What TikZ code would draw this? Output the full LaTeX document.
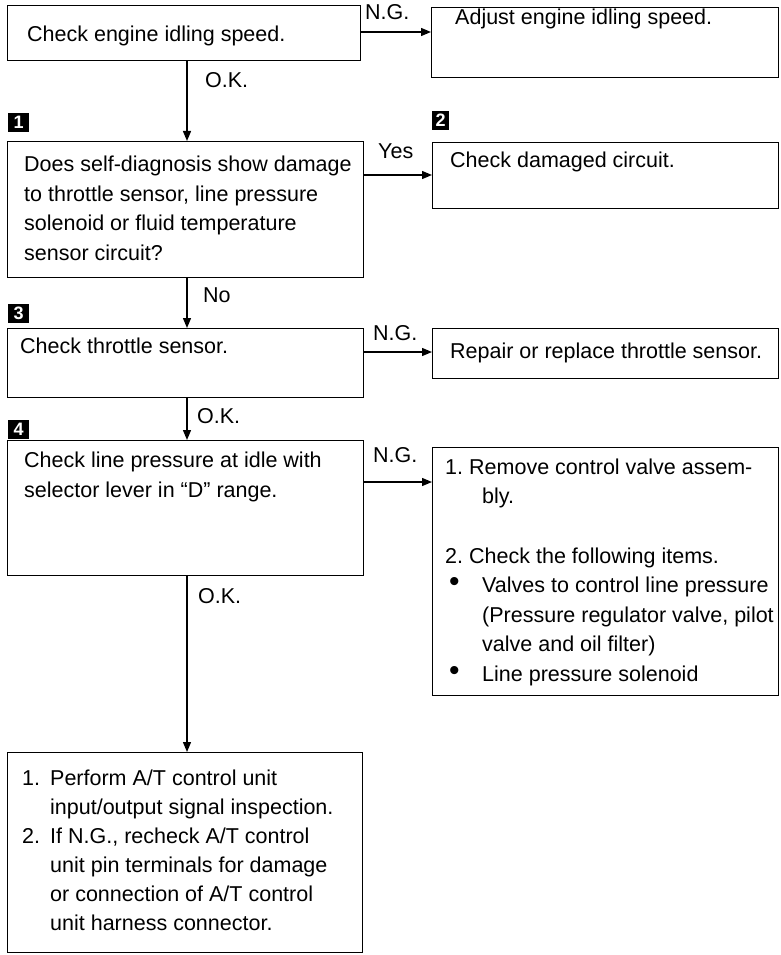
\documentclass[tikz,border=0pt]{standalone}
\usepackage{fontspec}
\setmainfont{Liberation Sans}
\usetikzlibrary{arrows.meta,calc}
\begin{document}
\begin{tikzpicture}[x=1pt,y=-1pt,
  box/.style={draw, line width=1.3pt, inner sep=0pt, anchor=north west},
  txt/.style={anchor=base west, inner sep=0pt, align=left, font=\fontsize{21.5}{29.5}\selectfont},
  lbl/.style={anchor=base west, inner sep=0pt, font=\fontsize{21.5}{25}\selectfont},
  arr/.style={line width=1.3pt, -{Triangle[length=10pt,width=8pt]}},
  numbox/.style={fill=black, text=white, font=\fontsize{18}{18}\selectfont\bfseries, minimum width=21pt, minimum height=19pt, inner sep=0pt, anchor=north west}
]
\useasboundingbox (0,0) rectangle (780,955);
% boxes
\node[box, minimum width=353pt, minimum height=55pt] (b1) at (7,5) {};
\node[box, minimum width=347pt, minimum height=70pt] (b2) at (431,7) {};
\node[box, minimum width=356pt, minimum height=136pt] (b3) at (7,141) {};
\node[box, minimum width=346pt, minimum height=66pt] (b4) at (432,142) {};
\node[box, minimum width=356pt, minimum height=69pt] (b5) at (7,328) {};
\node[box, minimum width=346pt, minimum height=50pt] (b6) at (432,328) {};
\node[box, minimum width=356pt, minimum height=135pt] (b7) at (7,440) {};
\node[box, minimum width=346pt, minimum height=248pt] (b8) at (432,447) {};
\node[box, minimum width=355pt, minimum height=200pt] (b9) at (7,752) {};
% texts (multi-line nodes: base anchor = baseline of the last line)
\node[txt] (t1) at (27,42) {Check engine idling speed.};
\node[txt] (t2) at (455,25) {Adjust engine idling speed.};
\node[txt] (t3) at (24,260) {Does self-diagnosis show damage\\to throttle sensor, line pressure\\solenoid or fluid temperature\\sensor circuit?};
\node[txt] (t4) at (450,167) {Check damaged circuit.};
\node[txt] (t5) at (20,353) {Check throttle sensor.};
\node[txt] (t6) at (450,358) {Repair or replace throttle sensor.};
\node[txt] (t7) at (24,497) {Check line pressure at idle with\\selector lever in ``D'' range.};
\node[txt] (t8) at (445,681) {\makebox[24pt][l]{1.}Remove control valve assem-\\\hspace*{37pt}bly.\\[30pt]\makebox[24pt][l]{2.}Check the following items.\\\makebox[37pt][l]{\hspace{4pt}\raisebox{1pt}{\fontsize{30}{29}\selectfont\textbullet}}Valves to control line pressure\\\hspace*{37pt}(Pressure regulator valve, pilot\\\hspace*{37pt}valve and oil filter)\\\makebox[37pt][l]{\hspace{4pt}\raisebox{1pt}{\fontsize{30}{29}\selectfont\textbullet}}Line pressure solenoid};
\node[txt, font=\fontsize{21.5}{29}\selectfont] (t9) at (22,930) {\makebox[28pt][l]{1.}Perform A/T control unit\\\hspace*{28pt}input/output signal inspection.\\\makebox[28pt][l]{2.}If N.G., recheck A/T control\\\hspace*{28pt}unit pin terminals for damage\\\hspace*{28pt}or connection of A/T control\\\hspace*{28pt}unit harness connector.};
% step markers
\node[numbox] (n1) at (8,113) {1};
\node[numbox, minimum width=17pt] (n2) at (432,111) {2};
\node[numbox] (n3) at (8,304) {3};
\node[numbox] (n4) at (8,420) {4};
% levels
\coordinate (x0) at (187,0);
\coordinate (r1) at (0,32);
\coordinate (r2) at (0,175);
\coordinate (r3) at (0,352);
\coordinate (r4) at (0,482);
% connectors
\draw[arr] (b1.east |- r1) -- (b2.west |- r1);
\draw[arr] (b3.east |- r2) -- (b4.west |- r2);
\draw[arr] (b5.east |- r3) -- (b6.west |- r3);
\draw[arr] (b7.east |- r4) -- (b8.west |- r4);
\draw[arr] (b1.south -| x0) -- (b3.north -| x0);
\draw[arr] (b3.south -| x0) -- (b5.north -| x0);
\draw[arr] (b5.south -| x0) -- (b7.north -| x0);
\draw[arr] (b7.south -| x0) -- (b9.north -| x0);
% labels
\node[lbl] (l1) at (365,20) {N.G.};
\node[lbl] (l2) at (205,88) {O.K.};
\node[lbl] (l3) at (378,158) {Yes};
\node[lbl] (l4) at (203,302) {No};
\node[lbl] (l5) at (373,340) {N.G.};
\node[lbl] (l6) at (197,423) {O.K.};
\node[lbl] (l7) at (373,462) {N.G.};
\node[lbl] (l8) at (198,603) {O.K.};
\end{tikzpicture}
\end{document}
